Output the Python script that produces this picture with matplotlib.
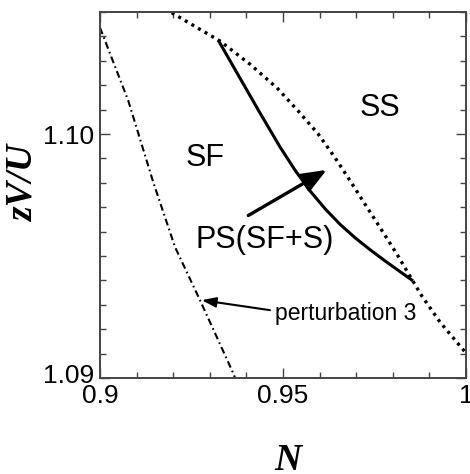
import matplotlib
matplotlib.use("Agg")
import matplotlib.pyplot as plt
from matplotlib.ticker import MultipleLocator, FixedLocator
from matplotlib.transforms import ScaledTranslation

plt.rcParams['font.family'] = ['Liberation Sans', 'DejaVu Sans']
plt.rcParams['lines.scale_dashes'] = False

# dotted boundary (SF / SS)
dot_N = [0.91959, 0.92732, 0.93279, 0.94098, 0.94836, 0.95410, 0.95956, 0.96421,
         0.96831, 0.97213, 0.97650, 0.98115, 0.98470, 0.98798, 0.99290, 1.0]
dot_V = [1.10497, 1.10429, 1.10381, 1.10286, 1.10189, 1.10095, 1.10001, 1.09903,
         1.09809, 1.09719, 1.09617, 1.09507, 1.09417, 1.09335, 1.09229, 1.09102]

# solid boundary (phase separation)
sol_N = [0.93232, 0.93825, 0.94372, 0.94918, 0.95328, 0.95738, 0.96148, 0.96557,
         0.96967, 0.97377, 0.97787, 0.98197, 0.98552]
sol_V = [1.10384, 1.10229, 1.10086, 1.09947, 1.09852, 1.09767, 1.09694, 1.09630,
         1.09575, 1.09526, 1.09480, 1.09436, 1.09398]

# dash-dot: perturbation 3
pt_N = [0.9, 0.90773, 0.91456, 0.92049, 0.92732, 0.93642, 0.9369]
pt_V = [1.10436, 1.10136, 1.09802, 1.09537, 1.09319, 1.09019, 1.0900]

x_ticks = [0.9, 0.95, 1.0]
x_ticklabels = ['0.9', '0.95', '1']
y_ticks = [1.09, 1.10]
y_ticklabels = ['1.09', '1.10']

fig = plt.figure(figsize=(4.70, 4.74), dpi=100)
ax = fig.add_axes([100/470, 1-378/474, 366/470, 366/474])

ax.plot(dot_N, dot_V, color='black', lw=2.4, linestyle=(0, (2.2, 3.3)), dash_capstyle='butt')
ax.plot(sol_N, sol_V, color='black', lw=2.2, solid_capstyle='butt')
ax.plot(pt_N, pt_V, color='black', lw=1.5, linestyle=(0, (5.0, 2.5, 1.2, 2.5)))

ax.set_xlim(0.9, 1.0)
ax.set_ylim(1.09, 1.105)
ax.xaxis.set_major_locator(FixedLocator(x_ticks))
ax.set_xticklabels(x_ticklabels)
ax.yaxis.set_major_locator(FixedLocator(y_ticks))
ax.set_yticklabels(y_ticklabels)
ax.xaxis.set_minor_locator(MultipleLocator(0.01))
ax.yaxis.set_minor_locator(MultipleLocator(0.001))
ax.tick_params(which='both', direction='in', top=True, right=True, labelsize=19, color='#444444')
ax.tick_params(which='major', length=7, width=1.0)
ax.tick_params(which='minor', length=4, width=1.0)
ax.tick_params(axis='x', pad=4)
ax.tick_params(axis='y', pad=4)
for s in ax.spines.values():
    s.set_linewidth(1.4)
    s.set_color('#444444')

# nudge the lowest y label up a little, as in the reference
lab = ax.get_yticklabels()[0]
lab.set_transform(lab.get_transform() + ScaledTranslation(0, 5/100, fig.dpi_scale_trans))

ax.text(0.97650, 1.10107, 'SS', fontsize=22, ha='center', va='center')
ax.text(0.92869, 1.09903, 'SF', fontsize=22, ha='center', va='center')
ax.text(0.94508, 1.09564, 'PS(SF+S)', fontsize=22, ha='center', va='center')
ax.annotate('', xy=(0.96194, 1.09853), xytext=(0.94052, 1.09666),
            arrowprops=dict(arrowstyle='-|>,head_length=1.5,head_width=0.6', color='black', lw=2.4,
                            shrinkA=0, shrinkB=0))
ax.text(0.94781, 1.09266, 'perturbation 3', fontsize=16.5, ha='left', va='center')
ax.annotate('', xy=(0.92779, 1.09319), xytext=(0.94645, 1.09278),
            arrowprops=dict(arrowstyle='-|>,head_length=0.85,head_width=0.3', color='black', lw=1.5,
                            shrinkA=0, shrinkB=0))

fig.text(288/470, 1-460/474, 'N', fontsize=27, ha='center', va='center',
         family='Liberation Serif', style='italic', weight='bold')
fig.text(23/470, 1-183/474, 'zV/U', fontsize=27, ha='center', va='center', rotation=90,
         family='Liberation Serif', style='italic', weight='bold')

fig.savefig('out.png', dpi=100)
